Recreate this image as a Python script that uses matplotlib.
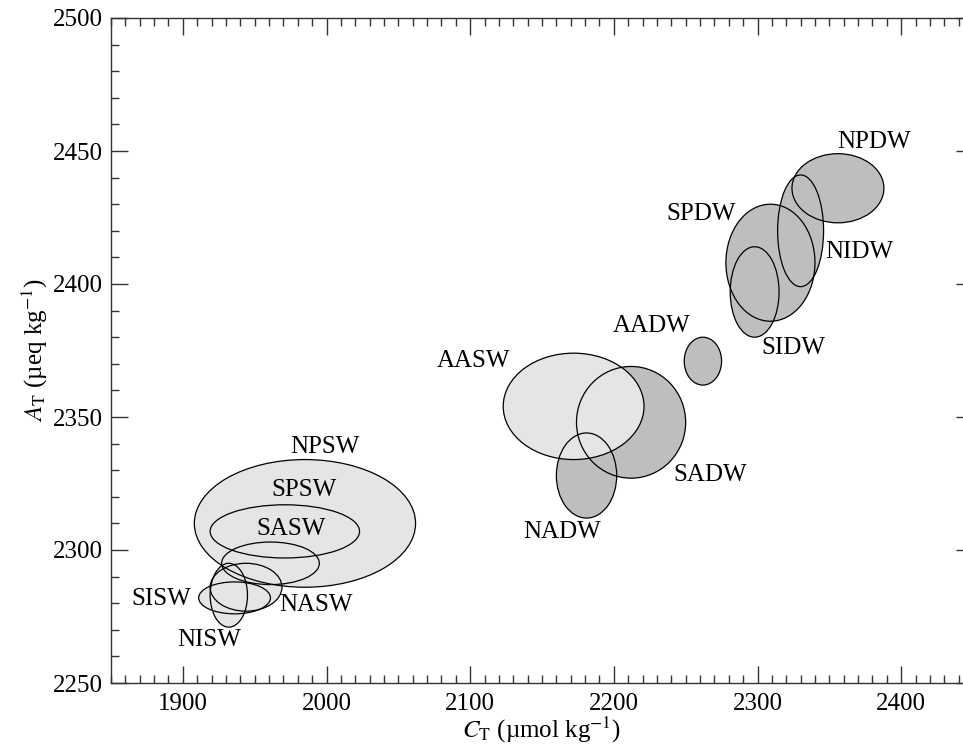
import matplotlib
matplotlib.use("Agg")
import matplotlib.pyplot as plt
from matplotlib.patches import Ellipse
from matplotlib.ticker import MultipleLocator

plt.rcParams['font.family'] = ['Liberation Serif', 'DejaVu Serif']
plt.rcParams['mathtext.fontset'] = 'stix'

# water masses: centre (CT, AT), full width, full height
names = ['NPSW', 'SPSW', 'SASW', 'NASW', 'SISW', 'NISW',
         'AASW', 'SADW', 'NADW', 'AADW', 'NPDW', 'NIDW', 'SPDW', 'SIDW']
ct = [1985, 1971, 1961, 1944, 1936, 1932,
      2172, 2212, 2181, 2262, 2356, 2330, 2309, 2298]
at = [2310, 2307, 2295, 2286, 2282, 2283,
      2354, 2348, 2328, 2371, 2436, 2420, 2408, 2397]
wid = [154, 104, 68, 50, 50, 26,
       98, 76, 42, 26, 64, 32, 62, 34]
hgt = [48, 20, 16, 18, 12, 24,
       40, 42, 32, 18, 26, 42, 44, 34]
deep = [False] * 7 + [True] * 7

# label positions
lab_x = [1999, 1984, 1975, 1993, 1885, 1918,
         2102, 2267, 2164, 2226, 2381, 2371, 2261, 2325]
lab_y = [2338.7, 2322.6, 2307.8, 2279.3, 2281.5, 2266.2,
         2371.2, 2328.2, 2306.9, 2384.2, 2453.5, 2412.1, 2426.3, 2376]

fig = plt.figure(figsize=(9.63, 7.49), dpi=100)
ax = fig.add_axes([111 / 963, 1 - 683 / 749, 862 / 963, 665 / 749])

light = '#e5e5e5'
dark = '#bebebe'

# fills: dark (deep) first, then light on top, then all outlines
for i in range(len(names)):
    if deep[i]:
        ax.add_patch(Ellipse((ct[i], at[i]), wid[i], hgt[i], facecolor=dark,
                             edgecolor='none', zorder=1))
for i in range(len(names)):
    if not deep[i]:
        ax.add_patch(Ellipse((ct[i], at[i]), wid[i], hgt[i], facecolor=light,
                             edgecolor='none', zorder=2))
for i in range(len(names)):
    ax.add_patch(Ellipse((ct[i], at[i]), wid[i], hgt[i], facecolor='none',
                         edgecolor='black', linewidth=0.9, zorder=3))
    ax.text(lab_x[i], lab_y[i], names[i], ha='center', va='center',
            fontsize=18, zorder=4)

ax.set_xlim(1850, 2450)
ax.set_ylim(2250, 2500)
ax.xaxis.set_major_locator(MultipleLocator(100))
ax.xaxis.set_minor_locator(MultipleLocator(10))
ax.yaxis.set_major_locator(MultipleLocator(50))
ax.yaxis.set_minor_locator(MultipleLocator(10))
ax.tick_params(which='both', direction='in', top=True, right=True,
               labelsize=18, width=1, color='#333333')
ax.tick_params(which='major', length=12)
ax.tick_params(which='minor', length=6)
ax.tick_params(axis='x', pad=7)
ax.tick_params(axis='y', pad=6)
for s in ax.spines.values():
    s.set_linewidth(1)
    s.set_color('#333333')

ax.set_xlabel(r'$C_\mathrm{T}$ (µmol kg$^{-1}$)', fontsize=18, labelpad=0)
ax.set_ylabel(r'$A_\mathrm{T}$ (µeq kg$^{-1}$)', fontsize=18, labelpad=2)

fig.savefig('out.png', dpi=100)
